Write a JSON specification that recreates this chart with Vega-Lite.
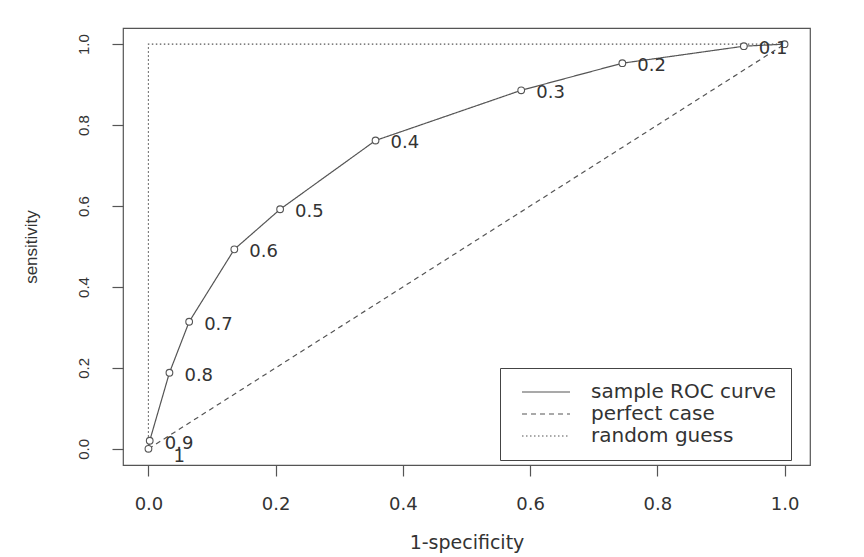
{
  "$schema": "https://vega.github.io/schema/vega-lite/v6.json",
  "width": 687,
  "height": 437,
  "autosize": {"type": "none"},
  "padding": {"left": 123, "top": 28, "right": 54, "bottom": 92},
  "background": "white",
  "config": {
    "view": {"stroke": "#555", "strokeWidth": 1.2},
    "font": "DejaVu Sans"
  },
  "datasets": {
    "lines": [
      {"series": "perfect case", "step": 1, "x": 0, "y": 0},
      {"series": "perfect case", "step": 2, "x": 1, "y": 1},
      {"series": "random guess", "step": 1, "x": 0, "y": 0},
      {"series": "random guess", "step": 2, "x": 0, "y": 1},
      {"series": "random guess", "step": 3, "x": 1, "y": 1}
    ],
    "roc": [
      {"label": "1", "x": 0.0, "y": 0.0},
      {"label": "0.9", "x": 0.002, "y": 0.02},
      {"label": "0.8", "x": 0.033, "y": 0.188},
      {"label": "0.7", "x": 0.064, "y": 0.314},
      {"label": "0.6", "x": 0.135, "y": 0.493},
      {"label": "0.5", "x": 0.207, "y": 0.592},
      {"label": "0.4", "x": 0.357, "y": 0.762},
      {"label": "0.3", "x": 0.586, "y": 0.886},
      {"label": "0.2", "x": 0.745, "y": 0.953},
      {"label": "0.1", "x": 0.936, "y": 0.995},
      {"label": "", "x": 1.0, "y": 1.0}
    ]
  },
  "layer": [
    {
      "data": {"name": "lines"},
      "mark": {"type": "line", "stroke": "#555", "strokeWidth": 1.2},
      "encoding": {
        "x": {
          "field": "x", "type": "quantitative",
          "scale": {"domain": [-0.04, 1.04], "nice": false, "zero": false},
          "axis": {
            "values": [0, 0.2, 0.4, 0.6, 0.8, 1.0], "format": ".1f",
            "domain": false, "grid": false,
            "tickSize": 11, "tickColor": "#555", "tickWidth": 1.2,
            "labelFontSize": 18, "labelColor": "#333", "labelPadding": 19, "labelFont": "DejaVu Sans",
            "title": "1-specificity", "titleFontSize": 19, "titleFontWeight": "normal",
            "titleColor": "#333", "titlePadding": 20, "titleFont": "DejaVu Sans"
          }
        },
        "y": {
          "field": "y", "type": "quantitative",
          "scale": {"domain": [-0.04, 1.04], "nice": false, "zero": false},
          "axis": {
            "values": [0, 0.2, 0.4, 0.6, 0.8, 1.0], "format": ".1f",
            "domain": false, "grid": false,
            "tickSize": 11, "tickColor": "#555", "tickWidth": 1.2,
            "labelAngle": -90, "labelAlign": "center", "labelBaseline": "bottom",
            "labelFontSize": 15, "labelColor": "#333", "labelPadding": 21, "labelFont": "Liberation Sans",
            "title": "sensitivity", "titleFontSize": 17, "titleFontWeight": "normal",
            "titleColor": "#333", "titlePadding": 36, "titleFont": "Liberation Sans"
          }
        },
        "order": {"field": "step", "type": "quantitative"},
        "strokeDash": {
          "field": "series", "type": "nominal",
          "scale": {
            "domain": ["sample ROC curve", "perfect case", "random guess"],
            "range": [[1, 0], [5, 4], [1.5, 2.5]]
          },
          "legend": {
            "orient": "none", "legendX": 377, "legendY": 340,
            "title": null, "padding": 14,
            "strokeColor": "#444", "fillColor": "white",
            "symbolType": "M-1,0H7", "symbolSize": 144, "symbolOffset": 4,
            "symbolStrokeColor": "#333", "symbolStrokeWidth": 1.2,
            "labelFontSize": 20, "labelColor": "#333", "labelFont": "DejaVu Sans",
            "labelOffset": 53, "labelLimit": 400, "rowPadding": 2
          }
        }
      }
    },
    {
      "data": {"name": "roc"},
      "mark": {"type": "line", "stroke": "#555", "strokeWidth": 1.2},
      "encoding": {
        "x": {"field": "x", "type": "quantitative"},
        "y": {"field": "y", "type": "quantitative"},
        "strokeDash": {"datum": "sample ROC curve"}
      }
    },
    {
      "data": {"name": "roc"},
      "mark": {"type": "circle", "size": 45, "fill": "white", "stroke": "#555", "strokeWidth": 1.1, "opacity": 1},
      "encoding": {
        "x": {"field": "x", "type": "quantitative"},
        "y": {"field": "y", "type": "quantitative"}
      }
    },
    {
      "data": {"name": "roc"},
      "transform": [{"filter": "datum.label != '1'"}],
      "mark": {"type": "text", "align": "left", "baseline": "middle", "dx": 15, "dy": 3, "fontSize": 18, "color": "#333", "font": "DejaVu Sans"},
      "encoding": {
        "x": {"field": "x", "type": "quantitative"},
        "y": {"field": "y", "type": "quantitative"},
        "text": {"field": "label"}
      }
    },
    {
      "data": {"name": "roc"},
      "transform": [{"filter": "datum.label == '1'"}],
      "mark": {"type": "text", "align": "left", "baseline": "middle", "dx": 25, "dy": 8, "fontSize": 18, "color": "#333", "font": "DejaVu Sans"},
      "encoding": {
        "x": {"field": "x", "type": "quantitative"},
        "y": {"field": "y", "type": "quantitative"},
        "text": {"field": "label"}
      }
    }
  ]
}
